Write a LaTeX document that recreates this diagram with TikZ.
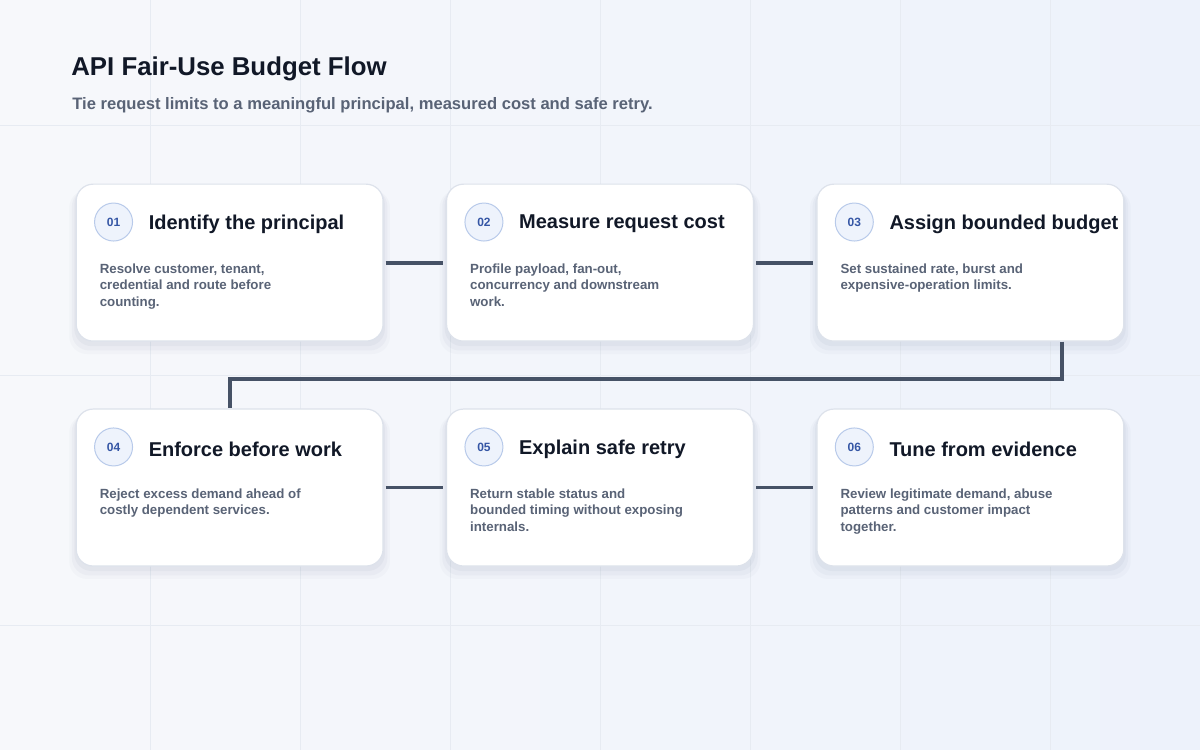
\documentclass[tikz,border=0pt]{standalone}
\usepackage{fontspec}
\setmainfont{Liberation Sans}
\usetikzlibrary{shadows}

\definecolor{ink}{HTML}{111827}
\definecolor{muted}{HTML}{596376}
\definecolor{wire}{HTML}{465266}
\definecolor{rim}{HTML}{DDE2EB}
\definecolor{badgefill}{HTML}{EEF3FC}
\definecolor{badgerim}{HTML}{B8CAEA}
\definecolor{badgeink}{HTML}{3556A5}
\definecolor{bgleft}{HTML}{F7F8FB}
\definecolor{bgright}{HTML}{EDF2FB}
\definecolor{gridline}{HTML}{E7EBF2}
\definecolor{haze}{HTML}{6B7A99}

\tikzset{
  card/.style={draw=rim, line width=1.2pt, fill=white, rounded corners=17pt,
    minimum width=307pt, minimum height=157pt, node distance=370.5pt,
    general shadow={fill=haze, opacity=0.035, shadow yshift=-9pt, shadow scale=1.045},
    general shadow={fill=haze, opacity=0.05, shadow yshift=-7pt, shadow scale=1.028},
    general shadow={fill=haze, opacity=0.06, shadow yshift=-4pt, shadow scale=1.012}},
  badge/.style={circle, draw=badgerim, line width=1pt, fill=badgefill, minimum size=38pt,
    inner sep=0pt, text=badgeink, font=\bfseries\fontsize{12}{12}\selectfont},
  heading/.style={anchor=west, inner sep=0pt, text=ink, font=\bfseries\fontsize{20}{24}\selectfont},
  blurb/.style={anchor=north west, inner sep=0pt, align=left, text=muted,
    font=\bfseries\fontsize{13.3}{16.5}\selectfont},
  link/.style={draw=wire, line width=3.8pt},
}

\begin{document}
\begin{tikzpicture}[x=1pt,y=-1pt]
  % backdrop
  \shade[left color=bgleft, right color=bgright] (0,0) rectangle (1200,750);
  \foreach \x in {150,300,...,1050} \draw[gridline] (\x,0) -- (\x,750);
  \foreach \y in {125,375,625} \draw[gridline] (0,\y) -- (1200,\y);

  \node[anchor=west, inner sep=0pt, text=ink, font=\bfseries\fontsize{25.8}{30}\selectfont] (title) at (71,69) {API Fair-Use Budget Flow};
  \node[anchor=west, inner sep=0pt, text=muted, font=\bfseries\fontsize{16.6}{20}\selectfont] (sub) at (72,105) {Tie request limits to a meaningful principal, measured cost and safe retry.};

  % cards
  \node[card] (c1) at (229.5,262.5) {};
  \node[card, right of=c1] (c2) {};
  \node[card, right of=c2] (c3) {};
  \node[card] (c4) at (229.5,487.5) {};
  \node[card, right of=c4] (c5) {};
  \node[card, right of=c5] (c6) {};

  % wires
  \draw[link] ([xshift=2pt]c1.east) -- ([xshift=-3pt]c2.west);
  \draw[link] ([xshift=2pt]c2.east) -- ([xshift=-3pt]c3.west);
  \draw[link] ([xshift=2pt]c4.east) -- ([xshift=-3pt]c5.west);
  \draw[link] ([xshift=2pt]c5.east) -- ([xshift=-3pt]c6.west);
  \draw[link] ([xshift=92pt]c3.south) |- (229.5,379) -- (c4.north);

  % badges, headings and text
  \foreach \n/\num/\head/\body in {
      1/01/Identify the principal/{Resolve customer, tenant,\\credential and route before\\counting.},
      2/02/Measure request cost/{Profile payload, fan-out,\\concurrency and downstream\\work.},
      3/03/Assign bounded budget/{Set sustained rate, burst and\\expensive-operation limits.},
      4/04/Enforce before work/{Reject excess demand ahead of\\costly dependent services.},
      5/05/Explain safe retry/{Return stable status and\\bounded timing without exposing\\internals.},
      6/06/Tune from evidence/{Review legitimate demand, abuse\\patterns and customer impact\\together.}} {
    \node[badge] (b\n) at ([xshift=38pt,yshift=-38.5pt]c\n.north west) {\num};
    \node[heading] (h\n) at ([xshift=35pt,yshift=-2pt]b\n.center) {\head};
    \node[blurb] (t\n) at ([xshift=24pt,yshift=-80pt]c\n.north west) {\body};
  }
\end{tikzpicture}
\end{document}
